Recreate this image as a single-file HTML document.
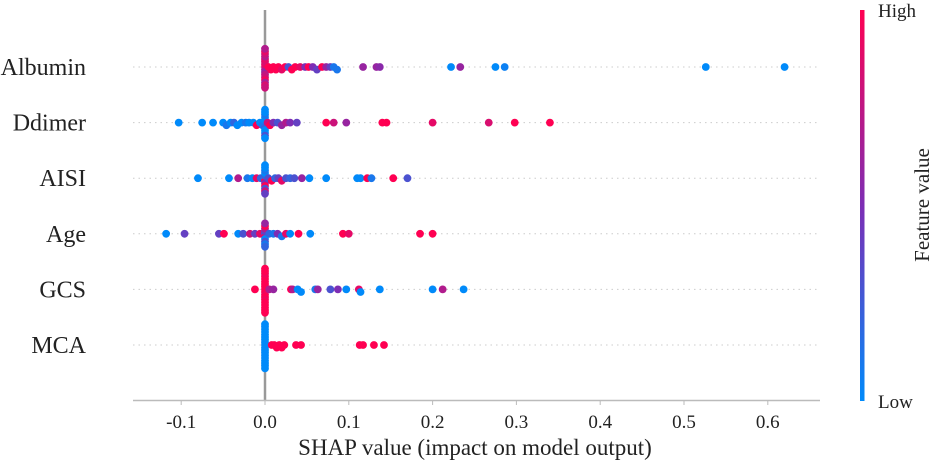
<!DOCTYPE html>
<html><head><meta charset="utf-8"><style>
html,body{margin:0;padding:0;background:#fff;}
svg{display:block;font-family:"Liberation Serif",serif;}
</style></head><body>
<svg id="chart" width="935" height="464" viewBox="0 0 935 464" xmlns="http://www.w3.org/2000/svg">
<defs><linearGradient id="cb" x1="0" y1="1" x2="0" y2="0">
<stop offset="0" stop-color="rgb(0,138,250)"/><stop offset="0.5" stop-color="rgb(125,45,180)"/><stop offset="1" stop-color="rgb(255,0,82)"/>
</linearGradient></defs>
<g id="grid"></g>
<line x1="265" y1="10" x2="265" y2="400" stroke="#999" stroke-width="2.5"/>
<g id="dots"></g>
<line x1="133" y1="400.5" x2="820" y2="400.5" stroke="#bbb" stroke-width="1.5"/>
<g id="xticks"></g>
<text x="475" y="455" font-size="23" text-anchor="middle" fill="#222">SHAP value (impact on model output)</text>
<g id="ylabels"></g>
<rect x="860" y="10" width="4.5" height="391" fill="url(#cb)"/>
<text x="878" y="17" font-size="19" fill="#222">High</text>
<text x="878" y="408" font-size="19" fill="#222">Low</text>
<text transform="translate(929,205) rotate(-90)" font-size="21" text-anchor="middle" fill="#222">Feature value</text>
</svg>
<script>
const features = ["Albumin","Ddimer","AISI","Age","GCS","MCA"];
const xTicks = [-0.1,0.0,0.1,0.2,0.3,0.4,0.5,0.6];
const xTickLabels = ["-0.1","0.0","0.1","0.2","0.3","0.4","0.5","0.6"];
const albuminShap = [0,0,0,0,0,0,0,0,0,0,0,0,0,0,0,0,0.004,0.007,0.01,0.013,0.016,0.02,0.024,0.028,0.032,0.036,0.042,0.048,0.052,0.057,0.062,0.068,0.073,0.078,0.082,0.086,0.117,0.133,0.137,0.222,0.233,0.275,0.286,0.526,0.62];
const albuminColor = [0.8,0.7,0.9,0.6,0.85,0.75,0.9,0.8,0.7,0.95,0.8,0.65,0.9,0.85,0.7,0.8,1,1,1,1,1,0.9,1,0.3,1,1,0.9,0.5,1,0.5,0.4,1,0.6,0.4,0.1,0.1,0.6,0.6,0.55,0,0.6,0,0.05,0,0];
const ddimerShap = [-0.103,-0.075,-0.062,-0.05,-0.046,-0.041,-0.037,-0.033,-0.028,-0.023,-0.019,-0.014,-0.01,-0.006,-0.003,0,0,0,0,0,0,0,0,0,0,0,0,0.003,0.006,0.01,0.015,0.02,0.025,0.03,0.038,0.073,0.082,0.097,0.14,0.145,0.2,0.267,0.298,0.34];
const ddimerColor = [0,0,0,0,0.1,0,0.2,0,0,0.1,0,0,1,0,0.1,0,0.1,0,0.2,0,0,0.1,0,0,0.3,0,0,0.8,1,0.5,0.3,0.6,0.7,0.5,0.4,1,0.8,0.6,1,1,0.9,0.85,1,1];
const aisiShap = [-0.08,-0.043,-0.032,-0.021,-0.015,-0.01,-0.005,0,0,0,0,0,0,0,0,0,0,0,0,0.004,0.008,0.012,0.016,0.02,0.025,0.03,0.035,0.044,0.053,0.073,0.11,0.114,0.122,0.127,0.153,0.17];
const aisiColor = [0,0,0.7,0.1,0,0.9,0.2,0,1,0.2,0.5,0,1,0.1,0.3,0,0.8,0,0.4,0.3,1,0.2,0.4,0.9,0.3,0.2,0.3,0.6,0,0,0,0,1,0.1,1,0.3];
const ageShap = [-0.118,-0.096,-0.055,-0.049,-0.032,-0.026,-0.018,-0.012,-0.006,0,0,0,0,0,0,0,0,0,0,0.005,0.01,0.015,0.02,0.025,0.03,0.04,0.054,0.093,0.1,0.185,0.2];
const ageColor = [0,0.4,0.4,1,0,0.3,0.8,0.4,0.9,0.2,0.9,0.4,0,0.7,0.3,1,0.1,0.6,0.2,0.2,0.1,0.5,0.1,0.9,0,1,0,1,0.9,1,1];
const gcsShap = [-0.012,0,0,0,0,0,0,0,0,0,0,0,0,0,0,0,0,0,0,0.005,0.01,0.031,0.033,0.039,0.043,0.06,0.063,0.078,0.087,0.097,0.112,0.114,0.137,0.2,0.212,0.237];
const gcsColor = [1,1,1,1,0.95,1,1,1,0.95,1,1,1,1,0.95,1,1,1,1,1,0.7,0.6,1,0.7,0,0,0.1,0.6,0.3,0.5,0,0.9,0,0,0,0.7,0];
const mcaShap = [0,0,0,0,0,0,0,0,0,0,0,0,0,0,0,0,0,0,0.008,0.011,0.014,0.017,0.02,0.023,0.037,0.043,0.113,0.117,0.13,0.142];
const mcaColor = [0,0,0,0,0,0,0,0,0,0,0,0,0,0,0,0,0,0,1,1,1,1,1,1,1,1,1,1,1,1];

const shapSets = [albuminShap,ddimerShap,aisiShap,ageShap,gcsShap,mcaShap];
const colorSets = [albuminColor,ddimerColor,aisiColor,ageColor,gcsColor,mcaColor];
const NS="http://www.w3.org/2000/svg";
const x0=265, pxPerUnit=838;
function xScale(v){return x0+v*pxPerUnit;}
function yScale(i){return 67+i*55.6;}
function lerp(a,b,t){return Math.round(a+(b-a)*t);}
function colorFor(t){
  const lo=[0,138,250], mid=[125,45,180], hi=[255,0,82];
  let a,b,u; if(t<0.5){a=lo;b=mid;u=t/0.5;} else {a=mid;b=hi;u=(t-0.5)/0.5;}
  return `rgb(${lerp(a[0],b[0],u)},${lerp(a[1],b[1],u)},${lerp(a[2],b[2],u)})`;
}
const grid=document.getElementById('grid'), dots=document.getElementById('dots'), yl=document.getElementById('ylabels'), xt=document.getElementById('xticks');
features.forEach((f,i)=>{
  const y=yScale(i);
  const g=document.createElementNS(NS,'line');
  g.setAttribute('x1',133);g.setAttribute('x2',820);g.setAttribute('y1',y);g.setAttribute('y2',y);
  g.setAttribute('stroke','#ccc');g.setAttribute('stroke-width','1');g.setAttribute('stroke-dasharray','1.5,4');
  
  
  grid.appendChild(g);
  const t=document.createElementNS(NS,'text');
  t.setAttribute('x',86);t.setAttribute('y',y+8);t.setAttribute('text-anchor','end');t.setAttribute('font-size','24');t.setAttribute('fill','#222');
  t.textContent=f;
  
  
  yl.appendChild(t);
  const vals=shapSets[i], cols=colorSets[i];
  const bins={};
  vals.forEach((v,k)=>{
    const x=xScale(v);
    const b=Math.round(x/5);
    const n=bins[b]||0; bins[b]=n+1;
    const off=(n===0)?0:(n%2? 1:-1)*Math.ceil(n/2)*2.6;
    const c=document.createElementNS(NS,'circle');
    c.setAttribute('cx',x);c.setAttribute('cy',y+off);c.setAttribute('r',3.9);c.setAttribute('fill',colorFor(cols[k]));
    
    
    dots.appendChild(c);
  });
});
xTicks.forEach((v,k)=>{
  const x=xScale(v);
  const l=document.createElementNS(NS,'line');
  l.setAttribute('x1',x);l.setAttribute('x2',x);l.setAttribute('y1',400);l.setAttribute('y2',405);l.setAttribute('stroke','#bbb');
  
  
  xt.appendChild(l);
  const t=document.createElementNS(NS,'text');
  t.setAttribute('x',x);t.setAttribute('y',428);t.setAttribute('text-anchor','middle');t.setAttribute('font-size','19');t.setAttribute('fill','#222');
  t.textContent=xTickLabels[k];
  
  
  xt.appendChild(t);
});
</script>
</body></html>
